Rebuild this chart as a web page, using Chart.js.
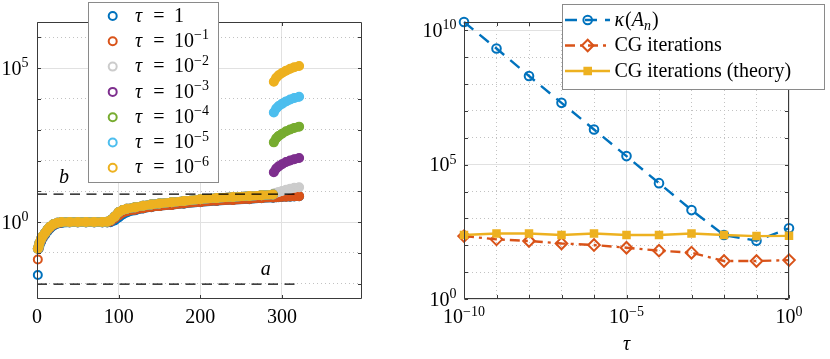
<!DOCTYPE html>
<html>
<head>
<meta charset="utf-8">
<script src="https://cdn.jsdelivr.net/npm/chart.js@4.4.1/dist/chart.umd.min.js"></script>
<style>
  body { margin: 0; background: #fff; }
  #wrap { position: relative; width: 830px; height: 359px; }
  canvas { position: absolute; top: 0; }
</style>
</head>
<body>
<div id="wrap">
  <canvas id="eigChart" width="415" height="359" style="left:0"></canvas>
  <canvas id="tauChart" width="415" height="359" style="left:415px"></canvas>
</div>
<script>
// ---------- left panel: sorted eigenvalues, one curve per tau ----------
const eigIdx = [1, 2, 3, 5, 7, 10, 13, 16, 20, 25, 30, 40, 50, 60, 70, 80, 86, 90, 95, 100,
  105, 110, 120, 130, 140, 150, 165, 180, 200, 220, 240, 260, 275, 289,
  290, 293, 296, 300, 305, 310, 315, 321];

// tau = 1 and tau = 1e-1 : no outliers
const eigTau0 = [0.019, 0.135, 0.17, 0.23, 0.30, 0.39, 0.50, 0.62, 0.76, 0.88, 0.94, 0.97, 0.97, 0.97, 0.97, 0.97, 0.97, 0.99, 1.12, 1.4,
  1.75, 2.05, 2.4, 2.75, 3.05, 3.3, 3.6, 3.95, 4.4, 4.85, 5.2, 5.55, 5.9, 6.2,
  6.25, 6.35, 6.45, 6.5, 6.6, 6.7, 6.75, 6.85];
const eigTau1 = [0.061, 0.14, 0.19, 0.25, 0.32, 0.42, 0.54, 0.66, 0.80, 0.92, 0.97, 0.98, 0.98, 0.98, 0.98, 0.98, 0.99, 1.05, 1.3, 1.65,
  2.0, 2.25, 2.5, 2.8, 3.1, 3.3, 3.6, 4.0, 4.45, 4.9, 5.25, 5.6, 6.0, 6.3,
  6.35, 6.45, 6.55, 6.6, 6.7, 6.8, 6.85, 6.95];

// tau <= 1e-2 : common bulk (n = 1..289) plus the last eigenvalues
const eigBulk = [0.135, 0.16, 0.21, 0.28, 0.35, 0.45, 0.58, 0.71, 0.85, 0.95, 1.0, 1.0, 1.0, 1.0, 1.0, 1.0, 1.02, 1.15, 1.5, 2.1,
  2.45, 2.7, 3.0, 3.4, 3.7, 4.0, 4.4, 4.8, 5.5, 6.0, 6.5, 7.0, 7.4, 7.9];
const eigTail2 = [8.5, 8.9, 9.5, 10.2, 11.2, 12.0, 12.9, 13.5];
const eigTail3 = [41.7, 55, 64.6, 75.9, 89.1, 100, 110, 120];
const eigTail4 = [389, 525, 631, 741, 891, 1023, 1148, 1259];
const eigTail5 = [3630, 4900, 5890, 6920, 8320, 9550, 10700, 11750];
const eigTail6 = [36300, 49000, 58900, 69200, 83200, 95500, 107000, 117500];

const tauExps = [0, -1, -2, -3, -4, -5, -6];
const tauColors = ['#0072BD', '#D95319', '#CCCCCC', '#7E2F8E', '#77AC30', '#4DBEEE', '#EDB120'];
const tauValues = [eigTau0, eigTau1, eigBulk.concat(eigTail2), eigBulk.concat(eigTail3),
  eigBulk.concat(eigTail4), eigBulk.concat(eigTail5), eigBulk.concat(eigTail6)];

// spectral bounds a and b
const boundX = [0, 321];
const boundA = [0.0096, 0.0096];
const boundB = [8.1, 8.1];

const eigXTicks = [0, 100, 200, 300];
const eigYExps = [-2, -1, 0, 1, 2, 3, 4, 5, 6];
const eigYMajor = [0, 5];

// ---------- right panel: condition number and CG iterations vs tau ----------
const tauGrid = [1e-10, 1e-9, 1e-8, 1e-7, 1e-6, 1e-5, 1e-4, 1e-3, 1e-2, 1e-1, 1];
const condNumber = [2.04e10, 2.1e9, 2.0e8, 2.0e7, 2.04e6, 2.08e5, 2.05e4, 2.04e3, 240, 148, 427];
const cgIters = [219, 166, 144, 117, 102, 81, 63, 53, 26, 26, 28];
const cgTheory = [240, 275, 275, 240, 275, 240, 240, 275, 240, 219, 224];

const tauXExps = [-10, -9, -8, -7, -6, -5, -4, -3, -2, -1, 0];
const tauXMajor = [-10, -5, 0];
const tauYExps = [0, 1, 2, 3, 4, 5, 6, 7, 8, 9, 10];
const tauYMajor = [0, 5, 10];

// ---------- styling ----------
const SERIF = '"Liberation Serif", "DejaVu Serif", serif';
const MAIN_PX = 20, SMALL_PX = 14, SUP_RISE = 7.5, SUB_DROP = 4.5;
const AXIS_COLOR = '#3a3a3a';
const GRID_MAJOR = '#e1e1e1';
const GRID_MINOR = '#c2c2c2';
const LEGEND_EDGE = '#8a8a8a';
const TICK_LEN = 3.5;
const LINE_W = 2.4;
const BLUE = '#0072BD', ORANGE = '#D95319', YELLOW = '#EDB120';

function fontFor(p) {
  return (p.it ? 'italic ' : '') + (p.sup || p.sub ? SMALL_PX : MAIN_PX) + 'px ' + SERIF;
}
function richWidth(ctx, parts) {
  let w = 0;
  for (const p of parts) { ctx.font = fontFor(p); w += (p.pre || 0) + ctx.measureText(p.t).width; }
  return w;
}
function richText(ctx, parts, x, y, align) {
  const w = richWidth(ctx, parts);
  let cx = align === 'right' ? x - w : align === 'center' ? x - w / 2 : x;
  ctx.textAlign = 'left';
  ctx.textBaseline = 'alphabetic';
  for (const p of parts) {
    ctx.font = fontFor(p);
    cx += p.pre || 0;
    ctx.fillText(p.t, cx, y + (p.sup ? -SUP_RISE : p.sub ? SUB_DROP : 0));
    cx += ctx.measureText(p.t).width;
  }
}
function powParts(e) {
  return [{ t: '10' }, { t: (e < 0 ? '\u2212' : '') + Math.abs(e), sup: true }];
}

function decadeTicks(exps, major) {
  return s => { s.ticks = exps.map(k => ({ value: Math.pow(10, k), major: major.includes(k) })); };
}
const gridStyle = {
  color: c => (c.tick && c.tick.major ? GRID_MAJOR : GRID_MINOR),
  lineWidth: 1,
  drawTicks: false
};
const borderStyle = {
  display: false,
  dash: c => (c.tick && c.tick.major ? [] : [1, 3])
};

function drawFrame(chart) {
  const { ctx, chartArea: a, scales: { x, y } } = chart;
  const L = Math.round(a.left) + 0.5, R = Math.round(a.right) - 0.5;
  const T = Math.round(a.top) + 0.5, B = Math.round(a.bottom) - 0.5;
  ctx.save();
  ctx.strokeStyle = AXIS_COLOR;
  ctx.lineWidth = 1;
  ctx.beginPath();
  x.ticks.forEach(t => {
    const p = Math.round(x.getPixelForValue(t.value)) + 0.5;
    ctx.moveTo(p, B); ctx.lineTo(p, B - TICK_LEN);
    ctx.moveTo(p, T); ctx.lineTo(p, T + TICK_LEN);
  });
  y.ticks.forEach(t => {
    const p = Math.round(y.getPixelForValue(t.value)) + 0.5;
    ctx.moveTo(L, p); ctx.lineTo(L + TICK_LEN, p);
    ctx.moveTo(R, p); ctx.lineTo(R - TICK_LEN, p);
  });
  ctx.rect(L, T, R - L, B - T);
  ctx.stroke();
  ctx.restore();
}

function drawMarker(ctx, style, x, y, r, color, filled) {
  ctx.save();
  ctx.strokeStyle = color;
  ctx.fillStyle = color;
  ctx.lineWidth = 2;
  ctx.beginPath();
  if (style === 'circle') ctx.arc(x, y, r, 0, 2 * Math.PI);
  else if (style === 'diamond') { ctx.moveTo(x - r, y); ctx.lineTo(x, y - r); ctx.lineTo(x + r, y); ctx.lineTo(x, y + r); ctx.closePath(); }
  else ctx.rect(x - r, y - r, 2 * r, 2 * r);
  if (filled) ctx.fill();
  ctx.stroke();
  ctx.restore();
}

// ---------- left chart ----------
const eigDatasets = tauValues.map((vals, i) => ({
  label: 'tau' + tauExps[i],
  data: eigIdx.map((n, j) => ({ x: n, y: vals[j] })),
  showLine: true,
  borderColor: tauColors[i],
  borderWidth: 9,
  borderCapStyle: 'round',
  borderJoinStyle: 'round',
  segment: { borderColor: c => (c.p1.parsed.y / c.p0.parsed.y > 1.8 ? 'rgba(0,0,0,0)' : undefined) },
  pointRadius: 4,
  pointBorderWidth: 2,
  pointBorderColor: tauColors[i],
  pointBackgroundColor: 'rgba(0,0,0,0)',
  tension: 0,
  clip: false,
  order: 7 - i
}));
[boundA, boundB].forEach((lvl, i) => eigDatasets.push({
  label: i ? 'b' : 'a',
  data: boundX.map((n, j) => ({ x: n, y: lvl[j] })),
  showLine: true,
  borderColor: '#000',
  borderWidth: 1.3,
  borderDash: [10, 6.5],
  pointRadius: 0,
  order: 0
}));

const eigDecor = {
  id: 'eigDecor',
  afterDraw(chart) {
    const { ctx, chartArea: a, scales: { x, y } } = chart;
    drawFrame(chart);
    ctx.save();
    ctx.fillStyle = '#000';
    eigXTicks.forEach(v => richText(ctx, [{ t: String(v) }], x.getPixelForValue(v), a.bottom + 24.3, 'center'));
    eigYExps.filter(k => eigYMajor.includes(k)).forEach(k =>
      richText(ctx, powParts(k), a.left - 8.5, y.getPixelForValue(Math.pow(10, k)) + 6.6, 'right'));
    // bound labels
    richText(ctx, [{ t: 'b', it: true }], x.getPixelForValue(33), y.getPixelForValue(boundB[0]) - 10.7, 'center');
    richText(ctx, [{ t: 'a', it: true }], x.getPixelForValue(280), y.getPixelForValue(boundA[0]) - 9, 'center');
    // legend
    ctx.fillStyle = '#fff';
    ctx.fillRect(88, 2, 131, 181);
    ctx.strokeStyle = LEGEND_EDGE;
    ctx.lineWidth = 1;
    ctx.strokeRect(88.5, 2.5, 130, 180);
    tauExps.forEach((e, i) => {
      const cy = 16 + i * 25.3;
      drawMarker(ctx, 'circle', 112.7, cy, 4, tauColors[i], false);
      ctx.fillStyle = '#000';
      richText(ctx, [{ t: '\u03C4', it: true }], 135, cy + 5.6, 'left');
      richText(ctx, [{ t: '=' }], 159, cy + 5.6, 'center');
      richText(ctx, e === 0 ? [{ t: '1' }] : powParts(e), 174, cy + 5.6, 'left');
    });
    ctx.restore();
  }
};

new Chart(document.getElementById('eigChart'), {
  type: 'scatter',
  data: { datasets: eigDatasets },
  options: {
    responsive: false,
    animation: false,
    events: [],
    devicePixelRatio: 1,
    layout: { padding: { left: 0, right: 53, top: 22, bottom: 0 } },
    plugins: { legend: { display: false }, tooltip: { enabled: false } },
    scales: {
      x: {
        type: 'linear', min: 0, max: 398,
        afterBuildTicks: s => { s.ticks = eigXTicks.map(v => ({ value: v, major: true })); },
        afterFit: s => { s.height = 60; },
        ticks: { display: false },
        grid: gridStyle,
        border: borderStyle
      },
      y: {
        type: 'logarithmic', min: Math.pow(10, -2.5), max: Math.pow(10, 6.5),
        afterBuildTicks: decadeTicks(eigYExps, eigYMajor),
        afterFit: s => { s.width = 37; },
        ticks: { display: false },
        grid: gridStyle,
        border: borderStyle
      }
    }
  },
  plugins: [eigDecor]
});

// ---------- right chart ----------
const tauLegend = [
  { parts: [{ t: '\u03BA', it: true }, { t: '(', pre: 1 }, { t: 'A', it: true }, { t: 'n', it: true, sub: true }, { t: ')', pre: 1 }],
    color: BLUE, dash: [12, 8], marker: 'circle', r: 4.3, filled: false },
  { parts: [{ t: 'CG iterations' }], color: ORANGE, dash: [10, 5, 3, 5], marker: 'diamond', r: 5.8, filled: false },
  { parts: [{ t: 'CG iterations (theory)' }], color: YELLOW, dash: [], marker: 'square', r: 3.3, filled: true }
];
const tauSeries = [condNumber, cgIters, cgTheory];

const tauDatasets = tauSeries.map((vals, i) => ({
  label: tauLegend[i].parts.map(p => p.t).join(''),
  data: tauGrid.map((t, j) => ({ x: t, y: vals[j] })),
  showLine: true,
  borderColor: tauLegend[i].color,
  borderWidth: LINE_W,
  borderDash: tauLegend[i].dash,
  pointStyle: ['circle', 'rectRot', 'rect'][i],
  pointRadius: [4.3, 5.8, 4.6][i],
  pointBorderWidth: 2,
  pointBorderColor: tauLegend[i].color,
  pointBackgroundColor: tauLegend[i].filled ? tauLegend[i].color : 'rgba(0,0,0,0)',
  tension: 0,
  clip: false,
  order: 2 - i
}));

const tauDecor = {
  id: 'tauDecor',
  afterDraw(chart) {
    const { ctx, chartArea: a, scales: { x, y } } = chart;
    drawFrame(chart);
    ctx.save();
    ctx.fillStyle = '#000';
    tauXExps.filter(k => tauXMajor.includes(k)).forEach(k =>
      richText(ctx, powParts(k), x.getPixelForValue(Math.pow(10, k)), a.bottom + 24.3, 'center'));
    tauYExps.filter(k => tauYMajor.includes(k)).forEach(k =>
      richText(ctx, powParts(k), a.left - 7.5, y.getPixelForValue(Math.pow(10, k)) + 6.6, 'right'));
    richText(ctx, [{ t: '\u03C4', it: true }], (a.left + a.right) / 2, 350, 'center');
    // legend
    ctx.fillStyle = '#fff';
    ctx.fillRect(147, 4, 263, 86);
    ctx.strokeStyle = LEGEND_EDGE;
    ctx.lineWidth = 1;
    ctx.strokeRect(147.5, 4.5, 262, 85);
    tauLegend.forEach((item, i) => {
      const cy = 20 + i * 25.5;
      ctx.save();
      ctx.strokeStyle = item.color;
      ctx.lineWidth = LINE_W;
      ctx.setLineDash(item.dash);
      ctx.beginPath();
      ctx.moveTo(150, cy); ctx.lineTo(195, cy);
      ctx.stroke();
      ctx.restore();
      drawMarker(ctx, item.marker, 172.7, cy, item.r, item.color, item.filled);
      ctx.fillStyle = '#000';
      richText(ctx, item.parts, 199.5, cy + 5.8, 'left');
    });
    ctx.restore();
  }
};

new Chart(document.getElementById('tauChart'), {
  type: 'scatter',
  data: { datasets: tauDatasets },
  options: {
    responsive: false,
    animation: false,
    events: [],
    devicePixelRatio: 1,
    layout: { padding: { left: 0, right: 41, top: 22, bottom: 0 } },
    plugins: { legend: { display: false }, tooltip: { enabled: false } },
    scales: {
      x: {
        type: 'logarithmic', min: 1e-10, max: 1,
        afterBuildTicks: decadeTicks(tauXExps, tauXMajor),
        afterFit: s => { s.height = 60; },
        ticks: { display: false },
        grid: gridStyle,
        border: borderStyle
      },
      y: {
        type: 'logarithmic', min: 1, max: 2.04e10,
        afterBuildTicks: decadeTicks(tauYExps, tauYMajor),
        afterFit: s => { s.width = 49; },
        ticks: { display: false },
        grid: gridStyle,
        border: borderStyle
      }
    }
  },
  plugins: [tauDecor]
});
</script>
</body>
</html>
